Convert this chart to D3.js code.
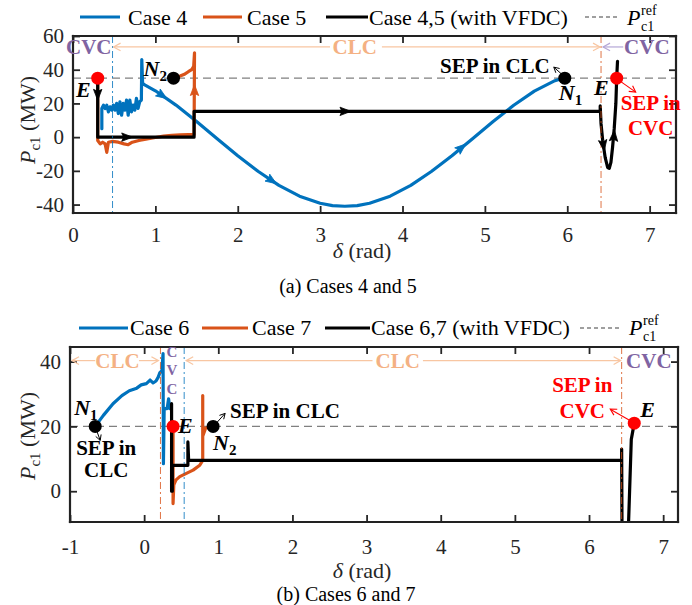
<!DOCTYPE html>
<html>
<head>
<meta charset="utf-8">
<script src="https://cdn.jsdelivr.net/npm/d3@7"></script>
<style>
  body { margin: 0; background: #fff; }
</style>
</head>
<body>
<div id="chart"></div>
<script>
// ---- data: panel (a), cases 4 and 5 ----
const xTicksA = [0, 1, 2, 3, 4, 5, 6, 7]
const yTicksA = [-40, -20, 0, 20, 40, 60]
const pRefA = 35
const boundsA = [0.48, 6.41]
const legendA = ["Case 4", "Case 5", "Case 4,5 (with VFDC)"]
const case4 = [[0.35, 5], [0.35, 17], [0.37, 19], [0.39, 17], [0.41, 19], [0.43, 15], [0.45, 18], [0.47, 16],
  [0.49, 19], [0.51, 16], [0.53, 20], [0.55, 14], [0.57, 21], [0.59, 13], [0.61, 20], [0.63, 16], [0.65, 22],
  [0.67, 13], [0.69, 22], [0.71, 15], [0.73, 19], [0.75, 16], [0.77, 23], [0.79, 17], [0.81, 21], [0.83, 22],
  [0.835, 46], [0.845, 32], [0.87, 31], [1.0, 27.5], [1.25, 19], [1.5, 9.3], [1.75, -0.9], [2.0, -11],
  [2.25, -20.4], [2.5, -28.6], [2.75, -35], [3.0, -39.2], [3.15, -40.6], [3.3, -41], [3.45, -40.6], [3.6, -39.2],
  [3.85, -35], [4.1, -28.6], [4.35, -20.4], [4.6, -11], [4.85, -0.9], [5.1, 9.3], [5.35, 18.9], [5.6, 27.3],
  [5.85, 33.5], [5.97, 35.3]]
const case5 = [[0.30, 35], [0.30, -2], [0.33, -4], [0.36, -3], [0.39, -4], [0.41, -9], [0.43, -3], [0.48, -2.5],
  [0.55, -3], [0.62, -4], [0.67, -4.5], [0.72, -3], [0.8, -2], [0.9, -1], [1.0, -0.2], [1.1, 0.6], [1.2, 1.1],
  [1.3, 1.4], [1.4, 1.5], [1.47, 1.5], [1.475, 50], [1.465, 42], [1.44, 40], [1.40, 38.8], [1.36, 37.5],
  [1.30, 36.3], [1.22, 35]]
const case45 = [[0.30, 35], [0.30, 0], [1.47, 0], [1.47, 15.3], [6.40, 15.3], [6.40, 18.5], [6.41, 8],
  [6.43, -2], [6.46, -12], [6.49, -18], [6.51, -18.5], [6.53, -15], [6.55, -6], [6.57, 5], [6.59, 20],
  [6.60, 35], [6.61, 45]]
// arrow marks on the trajectories: [tip x, tip y, from x, from y]
const arrows4 = [[1.12, 23.5, 1.0, 27.5], [2.45, -27, 2.25, -20.4], [4.75, -4.8, 4.6, -11]]
const arrows5 = [[1.475, 30, 1.475, 20]]
const arrows45 = [[0.30, 23, 0.30, 30], [0.70, 0, 0.6, 0], [3.35, 15.3, 3.2, 15.3],
  [6.445, -7, 6.43, -2], [6.57, 3, 6.56, -3]]
const pointsA = [[0.30, 35], [1.22, 35], [5.97, 35], [6.60, 35]]

// ---- data: panel (b), cases 6 and 7 ----
const xTicksB = [-1, 0, 1, 2, 3, 4, 5, 6, 7]
const yTicksB = [0, 20, 40]
const pRefB = 20
const boundsB = [0.22, 0.54, 6.44]
const legendB = ["Case 6", "Case 7", "Case 6,7 (with VFDC)"]
const case6 = [[-0.66, 20], [-0.55, 23.4], [-0.42, 27], [-0.3, 29.5], [-0.2, 31], [-0.1, 31.8], [-0.04, 32.8],
  [0.03, 33.2], [0.08, 34.3], [0.12, 33.4], [0.16, 34], [0.19, 35.2], [0.21, 36.5], [0.24, 37.2],
  [0.255, 42.5], [0.26, 8.5], [0.27, 25.5], [0.31, 25.5], [0.33, 28.5], [0.345, 25.5]]
const case7 = [[0.39, 20], [0.39, -3.8], [0.40, 2], [0.43, 3.5], [0.48, 4.5], [0.57, 5.5], [0.66, 6.5],
  [0.75, 8], [0.79, 9.5], [0.79, 29.5], [0.79, 17], [0.83, 19.5], [0.93, 20]]
const case67 = [[0.37, 27], [0.37, 0], [0.38, 0], [0.38, 8], [0.59, 8], [0.59, 15.2], [0.60, 9.5],
  [6.44, 9.5], [6.44, 13], [6.445, -12], [6.49, -25], [6.53, -12], [6.57, 16], [6.61, 21]]
const pointsB = [[-0.66, 20], [0.39, 20], [0.93, 20], [6.61, 21]]

// ---- styles ----
const FONT = '"Liberation Serif", "Times New Roman", serif'
const BLUE = "#0072BD", ORANGE = "#D95319", AXIS = "#262626", RED = "#FF0000"
const CLC_TXT = "#F4B183", CLC_ARR = "#F8C6A2", CVC_TXT = "#8064A2", CVC_ARR = "#B4A7D6"

const svg = d3.select("#chart").append("svg").attr("width", 692).attr("height", 605)
svg.append("rect").attr("width", 692).attr("height", 605).attr("fill", "#fff")

function panel(box, xDomain, yDomain, xTicks, yTicks, id) {
  const x = d3.scaleLinear().domain(xDomain).range([box.left, box.right])
  const y = d3.scaleLinear().domain(yDomain).range([box.bottom, box.top])
  svg.append("clipPath").attr("id", "clip-" + id).append("rect")
    .attr("x", box.left).attr("y", box.top)
    .attr("width", box.right - box.left).attr("height", box.bottom - box.top)
  const plot = svg.append("g").attr("clip-path", `url(#clip-${id})`)
  const axes = svg.append("g")
  const fmt = d => String(d)
  const style = sel => {
    sel.select(".domain").remove()
    sel.selectAll("line").attr("stroke", AXIS).attr("stroke-width", 1.8)
    sel.attr("font-size", 21).attr("font-family", FONT)
    sel.selectAll("text").attr("fill", AXIS)
  }
  axes.append("g").attr("transform", `translate(0,${box.bottom})`)
    .call(d3.axisBottom(x).tickValues(xTicks).tickFormat(fmt).tickSizeInner(-7).tickSizeOuter(0).tickPadding(box.xPad))
    .call(style)
  axes.append("g").attr("transform", `translate(0,${box.top})`)
    .call(d3.axisTop(x).tickValues(xTicks).tickFormat("").tickSizeInner(-7).tickSizeOuter(0))
    .call(style)
  axes.append("g").attr("transform", `translate(${box.left},0)`)
    .call(d3.axisLeft(y).tickValues(yTicks).tickFormat(fmt).tickSizeInner(-7).tickSizeOuter(0).tickPadding(9))
    .call(style)
  axes.append("g").attr("transform", `translate(${box.right},0)`)
    .call(d3.axisRight(y).tickValues(yTicks).tickFormat("").tickSizeInner(-7).tickSizeOuter(0))
    .call(style)

  // x label
  const xl = svg.append("text").attr("x", box.xLabelX).attr("y", box.xLabelY)
    .attr("text-anchor", "middle").attr("font-family", FONT).attr("font-size", 22).attr("fill", AXIS)
  xl.append("tspan").attr("font-style", "italic").text("δ")
  xl.append("tspan").text(" (rad)")
  // y label
  const yl = svg.append("text")
    .attr("transform", `translate(${box.yLabelX},${box.yLabelY}) rotate(-90)`)
    .attr("text-anchor", "middle").attr("font-family", FONT).attr("font-size", 22).attr("fill", AXIS)
  yl.append("tspan").attr("font-style", "italic").text("P")
  yl.append("tspan").attr("font-size", 15).attr("dy", 5).text("c1")
  yl.append("tspan").attr("dy", -5).text(" (MW)")
  // caption
  svg.append("text").attr("x", box.capX).attr("y", box.capY).attr("text-anchor", "middle")
    .attr("font-family", FONT).attr("font-size", 20).attr("fill", "#000").text(box.caption)

  return { x, y, plot }
}

function frame(box) {
  const f = svg.append("g").attr("stroke", "#222").attr("stroke-width", 2.2).attr("stroke-linecap", "square")
  f.append("line").attr("x1", box.left).attr("x2", box.right).attr("y1", box.top).attr("y2", box.top)
  f.append("line").attr("x1", box.left).attr("x2", box.right).attr("y1", box.bottom).attr("y2", box.bottom)
  f.append("line").attr("x1", box.left).attr("x2", box.left).attr("y1", box.top).attr("y2", box.bottom)
  f.append("line").attr("x1", box.right).attr("x2", box.right).attr("y1", box.top).attr("y2", box.bottom)
}

function lineMarks(p, pRef, bounds, boundColors, series, arrowSets, box) {
  const { x, y, plot } = p
  plot.append("line").attr("x1", box.left).attr("x2", box.right)
    .attr("y1", y(pRef)).attr("y2", y(pRef))
    .attr("stroke", "#808080").attr("stroke-width", 1.2).attr("stroke-dasharray", "8,5")
  const line = d3.line().x(d => x(d[0])).y(d => y(d[1]))
  const colors = [BLUE, ORANGE, "#000"]
  series.forEach((s, i) => {
    plot.append("path").datum(s).attr("d", line).attr("fill", "none")
      .attr("stroke", colors[i]).attr("stroke-width", 3.2)
      .attr("stroke-linejoin", "round").attr("stroke-linecap", "round")
  })
  bounds.forEach((b, i) => {
    plot.append("line").attr("x1", x(b)).attr("x2", x(b)).attr("y1", box.top).attr("y2", box.bottom)
      .attr("stroke", boundColors[i]).attr("stroke-width", 1).attr("stroke-dasharray", "7,3,2,3")
      .attr("opacity", 0.8)
  })
  arrowSets.forEach((set, i) => {
    set.forEach(a => {
      const xt = x(a[0]), yt = y(a[1])
      const ang = Math.atan2(yt - y(a[3]), xt - x(a[2])) * 180 / Math.PI
      plot.append("path").attr("d", "M2,0L-9,-4.2L-7,0L-9,4.2Z")
        .attr("transform", `translate(${xt},${yt}) rotate(${ang})`)
        .attr("fill", colors[i]).attr("stroke", colors[i]).attr("stroke-width", 0.8)
    })
  })
}

function openArrow(x1, y1, x2, y2, color, size, width) {
  const g = svg.append("g").attr("stroke", color).attr("stroke-width", width).attr("fill", "none")
  g.append("line").attr("x1", x1).attr("y1", y1).attr("x2", x2).attr("y2", y2)
  const ang = Math.atan2(y2 - y1, x2 - x1)
  const h = d3.path()
  h.moveTo(x2 - size * Math.cos(ang - 0.5), y2 - size * Math.sin(ang - 0.5))
  h.lineTo(x2, y2)
  h.lineTo(x2 - size * Math.cos(ang + 0.5), y2 - size * Math.sin(ang + 0.5))
  g.append("path").attr("d", h.toString())
}

function label(xp, yp, txt, opts) {
  const t = svg.append("text").attr("x", xp).attr("y", yp)
    .attr("font-family", FONT).attr("font-size", opts.size || 21)
    .attr("font-weight", "bold").attr("fill", opts.color || "#000")
    .attr("text-anchor", opts.anchor || "start")
  if (opts.italic) t.attr("font-style", "italic")
  if (opts.sub) {
    t.append("tspan").text(txt)
    t.append("tspan").attr("font-size", 15).attr("font-style", "normal").attr("dy", 5).text(opts.sub)
  } else t.text(txt)
  return t
}

function dots(p, pts, kinds) {
  pts.forEach((d, i) => {
    svg.append("circle").attr("cx", p.x(d[0])).attr("cy", p.y(d[1])).attr("r", 6.5)
      .attr("fill", kinds[i] === "E" ? RED : "#000")
  })
}

function legend(labels, lay) {
  const colors = [BLUE, ORANGE, "#000"]
  labels.forEach((l, i) => {
    svg.append("line").attr("x1", lay.lines[i][0]).attr("x2", lay.lines[i][1])
      .attr("y1", lay.lineY).attr("y2", lay.lineY).attr("stroke", colors[i]).attr("stroke-width", 3)
    svg.append("text").attr("x", lay.tx[i]).attr("y", lay.base).attr("font-family", FONT)
      .attr("font-size", 22).attr("fill", "#000").text(l)
  })
  svg.append("line").attr("x1", lay.lines[3][0]).attr("x2", lay.lines[3][1])
    .attr("y1", lay.lineY).attr("y2", lay.lineY).attr("stroke", "#808080")
    .attr("stroke-width", 1.5).attr("stroke-dasharray", "4,3")
  svg.append("text").attr("x", lay.tx[3]).attr("y", lay.base).attr("font-family", FONT)
    .attr("font-size", 22).attr("font-style", "italic").attr("fill", "#000").text("P")
  svg.append("text").attr("x", lay.tx[3] + 14).attr("y", lay.base - 10).attr("font-family", FONT)
    .attr("font-size", 14).attr("fill", "#000").text("ref")
  svg.append("text").attr("x", lay.tx[3] + 14).attr("y", lay.base + 6).attr("font-family", FONT)
    .attr("font-size", 14).attr("fill", "#000").text("c1")
}

// ================= panel (a) =================
const boxA = { left: 73, right: 676, top: 36, bottom: 213, xPad: 14,
  xLabelX: 362, xLabelY: 258, yLabelX: 35, yLabelY: 120, capX: 348, capY: 293, caption: "(a) Cases 4 and 5" }
const pa = panel(boxA, [0, 7.32], [-45, 60], xTicksA, yTicksA, "a")
lineMarks(pa, pRefA, boundsA, [BLUE, ORANGE], [case4, case5, case45], [arrows4, arrows5, arrows45], boxA)
frame(boxA)
legend(legendA, { lines: [[80, 120], [203, 242], [326, 368], [585, 618]], tx: [128, 247, 369, 627], lineY: 17, base: 25 })
{
  const { x, y } = pa
  const ry = y(53.5)
  label(x(boundsA[0]) - 1, ry + 7, "CVC", { color: CVC_TXT, anchor: "end" })
  label(x(3.42), ry + 7, "CLC", { color: CLC_TXT, anchor: "middle" })
  openArrow(x(3.12), ry, x(boundsA[0]) + 1, ry, CLC_ARR, 8, 1.2)
  openArrow(x(3.75), ry, x(boundsA[1]) - 1, ry, CLC_ARR, 8, 1.2)
  openArrow(x(6.68), ry, x(boundsA[1]) + 2, ry, CVC_ARR, 8, 1.2)
  label(x(6.69), ry + 7, "CVC", { color: CVC_TXT })

  const P = pointsA.map(d => [x(d[0]), y(d[1])])
  label(P[0][0] - 7, P[0][1] + 19, "E", { italic: true, anchor: "end", size: 22 })
  label(P[1][0] - 30, P[1][1] - 2, "N", { italic: true, sub: "2", size: 22 })
  label(P[2][0] - 6, P[2][1] + 22, "N", { italic: true, sub: "1", size: 22 })
  label(P[2][0] - 15, P[2][1] - 5, "SEP in CLC", { anchor: "end" })
  openArrow(P[2][0] - 2, P[2][1] - 3, P[2][0] - 11, P[2][1] - 11, "#000", 6, 1)
  label(P[3][0] - 8, P[3][1] + 17, "E", { italic: true, anchor: "end", size: 22 })
  label(P[3][0] + 34, P[3][1] + 32, "SEP in", { color: RED, anchor: "middle" })
  label(P[3][0] + 34, P[3][1] + 57, "CVC", { color: RED, anchor: "middle" })
  openArrow(P[3][0] + 2, P[3][1] + 2, P[3][0] + 19, P[3][1] + 14, RED, 7, 1.1)
  dots(pa, pointsA, ["E", "N", "N", "E"])
}

// ================= panel (b) =================
const boxB = { left: 70, right: 678, top: 347, bottom: 522, xPad: 17,
  xLabelX: 362, xLabelY: 578, yLabelX: 35, yLabelY: 436, capX: 346, capY: 601, caption: "(b) Cases 6 and 7" }
const pb = panel(boxB, [-1, 7.2], [-9.5, 44.5], xTicksB, yTicksB, "b")
lineMarks(pb, pRefB, boundsB, [ORANGE, BLUE, ORANGE], [case6, case7, case67], [[], [], []], boxB)
frame(boxB)
legend(legendB, { lines: [[79, 128], [202, 248], [325, 370], [580, 620]], tx: [130, 252, 371, 629], lineY: 328, base: 335 })
{
  const { x, y } = pb
  const ry = y(40.3)
  label(x(-0.36), ry + 7, "CLC", { color: CLC_TXT, anchor: "middle" })
  openArrow(x(-0.66), ry, boxB.left + 2, ry, CLC_ARR, 8, 1.2)
  openArrow(x(-0.07), ry, x(boundsB[0]) - 2, ry, CLC_ARR, 8, 1.2)
  ;["C", "V", "C"].forEach((c, i) => {
    label(x(0.375), [352, 370, 389][i] + 5, c, { color: CVC_TXT, anchor: "middle", size: 15 })
  })
  label(x(3.42), ry + 7, "CLC", { color: CLC_TXT, anchor: "middle" })
  openArrow(x(3.08), ry, x(boundsB[1]) + 2, ry, CLC_ARR, 8, 1.2)
  openArrow(x(3.76), ry, x(boundsB[2]) - 1, ry, CLC_ARR, 8, 1.2)
  label(x(6.5), ry + 7, "CVC", { color: CVC_TXT })

  const P = pointsB.map(d => [x(d[0]), y(d[1])])
  label(P[0][0] - 21, P[0][1] - 11, "N", { italic: true, sub: "1", size: 22 })
  label(P[0][0] + 11, P[0][1] + 29, "SEP in", { anchor: "middle" })
  label(P[0][0] + 11, P[0][1] + 51, "CLC", { anchor: "middle" })
  openArrow(P[0][0] + 1, P[0][1] + 3, P[0][0] + 5, P[0][1] + 14, "#000", 6, 1)
  label(P[1][0] + 5, P[1][1] + 7, "E", { italic: true, size: 22 })
  label(P[2][0], P[2][1] + 24, "N", { italic: true, sub: "2", size: 22 })
  label(P[2][0] + 17, P[2][1] - 8, "SEP in CLC", {})
  openArrow(P[2][0] + 3, P[2][1] - 3, P[2][0] + 12, P[2][1] - 13, "#000", 6, 1)
  label(P[3][0] + 6, P[3][1] - 6, "E", { italic: true, size: 22 })
  label(P[3][0] - 52, P[3][1] - 31, "SEP in", { color: RED, anchor: "middle" })
  label(P[3][0] - 52, P[3][1] - 5, "CVC", { color: RED, anchor: "middle" })
  openArrow(P[3][0] - 3, P[3][1] - 2, P[3][0] - 24, P[3][1] - 14, RED, 7, 1.1)
  dots(pb, pointsB, ["N", "E", "N", "E"])
}
</script>
</body>
</html>
